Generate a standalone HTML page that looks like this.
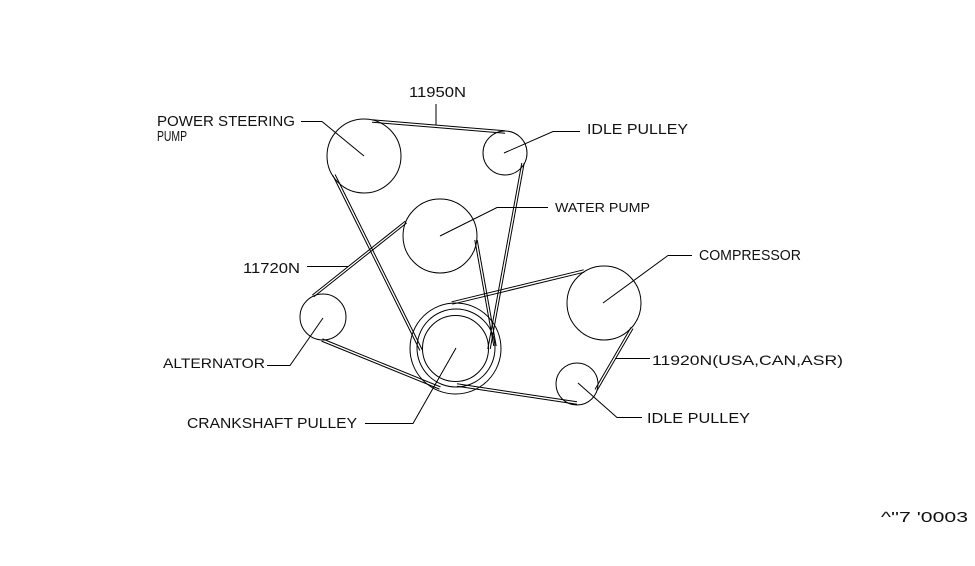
<!DOCTYPE html>
<html><head><meta charset="utf-8"><style>
html,body{margin:0;padding:0;background:#fff;}
svg{display:block;}
text{font-family:"Liberation Sans",sans-serif;fill:#111;}
</style></head><body>
<svg width="975" height="566" viewBox="0 0 975 566" xmlns="http://www.w3.org/2000/svg">
<g fill="none" stroke="#000" stroke-width="1">
<!-- pulleys -->
<circle cx="364" cy="156" r="37"/>
<circle cx="505" cy="153" r="22"/>
<circle cx="440" cy="236" r="37"/>
<circle cx="323" cy="317" r="23"/>
<circle cx="455.5" cy="348.5" r="33"/>
<circle cx="456" cy="348" r="39"/>
<circle cx="455.5" cy="348.5" r="45.5"/>
<circle cx="604" cy="303" r="37"/>
<circle cx="577" cy="384" r="21"/>

<!-- belt 11950N -->
<line x1="372" y1="119.8" x2="505" y2="130.8"/>
<line x1="372" y1="122.2" x2="505" y2="133.2"/>
<line x1="521.8" y1="163" x2="487.8" y2="349"/>
<line x1="524.2" y1="163" x2="490.2" y2="349"/>
<line x1="332.9" y1="175.5" x2="419.9" y2="350.5"/>
<line x1="335.1" y1="174.5" x2="422.1" y2="349.5"/>

<!-- belt 11720N -->
<line x1="313.7" y1="296.9" x2="406.7" y2="222.9"/>
<line x1="312.3" y1="295.1" x2="405.3" y2="221.1"/>
<line x1="474.8" y1="240" x2="493.8" y2="346"/>
<line x1="477.2" y1="240" x2="496.2" y2="346"/>
<line x1="321.5" y1="341.1" x2="439.5" y2="389.1"/>
<line x1="322.5" y1="338.9" x2="440.5" y2="386.9"/>

<!-- belt 11920N -->
<line x1="452.3" y1="304.2" x2="584.3" y2="272.2"/>
<line x1="451.7" y1="301.8" x2="583.7" y2="269.8"/>
<line x1="631" y1="327.4" x2="595" y2="389.4"/>
<line x1="633" y1="328.6" x2="597" y2="390.6"/>
<line x1="457" y1="383.8" x2="577" y2="401.8"/>
<line x1="457" y1="386.2" x2="577" y2="404.2"/>

<!-- leaders -->
<line x1="436" y1="104" x2="436" y2="125"/>
<polyline points="301,121.5 322,121.5 364,156"/>
<polyline points="504,153 553,131.5 580,131.5"/>
<polyline points="440,236 497,207.5 548,207.5"/>
<polyline points="603,303 668,255.5 692,255.5"/>
<line x1="615" y1="358.5" x2="650" y2="358.5"/>
<polyline points="578,383 617,417.5 642,417.5"/>
<line x1="307" y1="266.5" x2="348" y2="266.5"/>
<polyline points="267,365.5 290,365.5 323,318"/>
<polyline points="365,423.5 413,423.5 456,348"/>
</g>

<g font-size="15">
<text x="409" y="97" textLength="57" lengthAdjust="spacingAndGlyphs">11950N</text>
<text x="157" y="126" textLength="138" lengthAdjust="spacingAndGlyphs">POWER STEERING</text>
<text x="157" y="141" textLength="30" lengthAdjust="spacingAndGlyphs">PUMP</text>
<text x="587" y="134" textLength="101" lengthAdjust="spacingAndGlyphs">IDLE PULLEY</text>
<text x="555" y="212" font-size="13" textLength="95" lengthAdjust="spacingAndGlyphs">WATER PUMP</text>
<text x="699" y="260" textLength="102" lengthAdjust="spacingAndGlyphs">COMPRESSOR</text>
<text x="652" y="365" font-size="14" textLength="191" lengthAdjust="spacingAndGlyphs">11920N(USA,CAN,ASR)</text>
<text x="647" y="423" textLength="103" lengthAdjust="spacingAndGlyphs">IDLE PULLEY</text>
<text x="243" y="273" textLength="57" lengthAdjust="spacingAndGlyphs">11720N</text>
<text x="163" y="368" font-size="14" textLength="102" lengthAdjust="spacingAndGlyphs">ALTERNATOR</text>
<text x="187" y="428" textLength="170" lengthAdjust="spacingAndGlyphs">CRANKSHAFT PULLEY</text>
<text x="881" y="522" textLength="87" lengthAdjust="spacingAndGlyphs">^''7 '0003</text>
</g>
</svg>
</body></html>
